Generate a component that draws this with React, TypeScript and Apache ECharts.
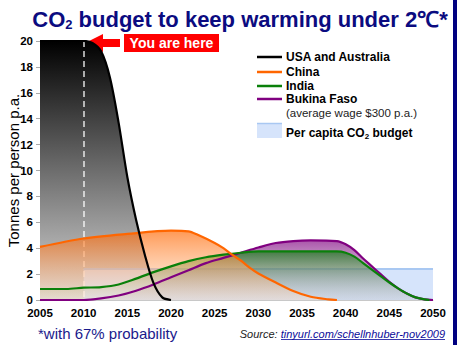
import React, { useEffect, useRef } from "react";
import * as echarts from "echarts";

const years = [2005, 2010, 2015, 2020, 2025, 2030, 2035, 2040, 2045, 2050];
const yTicks = [0, 2, 4, 6, 8, 10, 12, 14, 16, 18, 20];

const usaAustralia: [number, number][] = [
  [2005, 20], [2010, 20], [2011, 19.85], [2012, 19.2], [2013, 17.2], [2014, 13.7],
  [2015, 9.5], [2016, 6.2], [2017, 3.5], [2018, 1.3], [2019, 0.2], [2020, 0],
];
const china: [number, number][] = [
  [2005, 4.1], [2010, 4.75], [2015, 5.1], [2020, 5.35], [2022, 5.3], [2023, 5.05],
  [2025, 4.4], [2026, 4.0], [2027, 3.5], [2028, 3.05], [2029, 2.5], [2030, 2.05],
  [2032, 1.35], [2034, 0.7], [2036, 0.25], [2038, 0.05], [2039, 0],
];
const india: [number, number][] = [
  [2005, 0.85], [2008, 0.85], [2010, 0.95], [2012, 1.0], [2014, 1.2], [2016, 1.65],
  [2018, 2.15], [2020, 2.6], [2022, 3.0], [2024, 3.3], [2026, 3.5], [2028, 3.65],
  [2030, 3.75], [2035, 3.75], [2039, 3.75], [2040, 3.65], [2041, 3.35], [2042, 2.85],
  [2043, 2.35], [2044, 1.85], [2045, 1.35], [2046, 0.9], [2047, 0.5], [2048, 0.2],
  [2049, 0.05], [2049.6, 0],
];
const bukinaFaso: [number, number][] = [
  [2005, 0], [2010, 0], [2012, 0.12], [2014, 0.35], [2016, 0.72], [2018, 1.2],
  [2020, 1.75], [2022, 2.3], [2024, 2.85], [2026, 3.25], [2028, 3.65], [2030, 4.05],
  [2032, 4.4], [2034, 4.55], [2036, 4.6], [2039, 4.55], [2040, 4.3], [2041, 3.85],
  [2042, 3.2], [2043, 2.6], [2044, 2.0], [2045, 1.4], [2046, 0.9], [2047, 0.5],
  [2048, 0.2], [2049, 0.05], [2050, 0],
];
const budget: [number, number][] = [[2010, 2.4], [2050, 2.4]];
const youAreHereYear = 2010;

const FONT = "'Liberation Sans', Arial, Helvetica, sans-serif";
const NAVY = "#0b0b80";

function grad(top: string, bottom: string) {
  return new echarts.graphic.LinearGradient(0, 0, 0, 1, [
    { offset: 0, color: top },
    { offset: 1, color: bottom },
  ]);
}

export default function App() {
  const ref = useRef<HTMLDivElement>(null);
  useEffect(() => {
    if (!ref.current) return;
    const chart = echarts.init(ref.current, null, { renderer: "svg" });
    const SMOOTH = 0.3;
    const fill = (name: string, data: [number, number][], area: any, z: number) => ({
      name,
      type: "line",
      data,
      smooth: SMOOTH,
      showSymbol: false,
      lineStyle: { width: 0 },
      areaStyle: area,
      z,
      silent: true,
    });
    const line = (name: string, data: [number, number][], color: string, z: number, extra: any = {}) => ({
      name,
      type: "line",
      data,
      smooth: SMOOTH,
      showSymbol: false,
      lineStyle: { width: 2.2, color },
      z,
      silent: true,
      ...extra,
    });
    const legendY = [57, 72, 86, 99];
    const legendItems = [
      { label: "USA and Australia", color: "#000000" },
      { label: "China", color: "#ff6600" },
      { label: "India", color: "#0a800a" },
      { label: "Bukina Faso", color: "#800080" },
    ];
    const legendGraphics: any[] = [];
    legendItems.forEach((it, i) => {
      legendGraphics.push({
        type: "line",
        shape: { x1: 257, y1: legendY[i], x2: 282, y2: legendY[i] },
        style: { stroke: it.color, lineWidth: 2.5 },
      });
      legendGraphics.push({
        type: "text",
        x: 286,
        y: legendY[i],
        style: { text: it.label, font: `bold 12px ${FONT}`, fill: "#000", verticalAlign: "middle" },
      });
    });
    legendGraphics.push({
      type: "text",
      x: 286,
      y: 113,
      style: { text: "(average wage $300 p.a.)", font: `11.5px ${FONT}`, fill: "#222", verticalAlign: "middle" },
    });
    legendGraphics.push({
      type: "rect",
      shape: { x: 257, y: 123, width: 25, height: 15 },
      style: { fill: "#d6e4fb" },
    });
    legendGraphics.push({
      type: "line",
      shape: { x1: 257, y1: 123.5, x2: 282, y2: 123.5 },
      style: { stroke: "#a9c8f2", lineWidth: 1.5 },
    });
    legendGraphics.push({
      type: "text",
      x: 286,
      y: 133,
      style: {
        text: "{a|Per capita CO}{s|2}{a| budget}",
        verticalAlign: "middle",
        rich: {
          a: { font: `bold 12px ${FONT}`, fill: "#000" },
          s: { font: `bold 8px ${FONT}`, fill: "#000", padding: [6, 0, 0, 0] },
        },
      },
    });

    chart.setOption({
      animation: false,
      backgroundColor: "#ffffff",
      title: {
        text: "{a|CO}{s|2}{a| budget to keep warming under 2℃*}",
        left: 235,
        textAlign: "center",
        top: 3,
        textStyle: {
          rich: {
            a: { fontFamily: FONT, fontWeight: "bold", fontSize: 22, color: NAVY },
            s: { fontFamily: FONT, fontWeight: "bold", fontSize: 13, color: NAVY, padding: [10, 0, 0, 0] },
          },
        },
      },
      grid: { left: 40, right: 31, top: 41, bottom: 45, outerBoundsMode: "none", containLabel: false },
      xAxis: {
        type: "value",
        min: years[0],
        max: years[years.length - 1],
        interval: 5,
        splitLine: { show: false },
        axisLine: { show: true, lineStyle: { color: "#c8c8c8" } },
        axisTick: { show: false },
        axisLabel: {
          fontFamily: FONT,
          fontWeight: "bold",
          fontSize: 11.5,
          color: "#000",
          margin: 7,
          formatter: (v: number) => String(v),
        },
      },
      yAxis: {
        type: "value",
        min: yTicks[0],
        max: yTicks[yTicks.length - 1],
        interval: 2,
        name: "Tonnes per person p.a.",
        nameLocation: "middle",
        nameRotate: 90,
        nameGap: 19,
        nameMoveOverlap: false,
        nameTextStyle: { fontFamily: FONT, fontSize: 15, color: "#000" },
        splitLine: { show: false },
        axisLine: { show: true, lineStyle: { color: "#c8c8c8" } },
        axisTick: { show: true, length: 4, lineStyle: { color: "#aaa" } },
        axisLabel: {
          fontFamily: FONT,
          fontWeight: "bold",
          fontSize: 11.5,
          color: "#000",
          margin: 7,
        },
      },
      series: [
        fill("USA and Australia area", usaAustralia, { color: grad("#000000", "#dadada"), opacity: 1 }, 1),
        {
          name: "Per capita CO2 budget",
          type: "line",
          data: budget,
          showSymbol: false,
          lineStyle: { width: 2, color: "#a9c8f2" },
          areaStyle: { color: "#d6e4fb", opacity: 1 },
          z: 2,
          silent: true,
        },
        fill("Bukina Faso area", bukinaFaso, { color: grad("rgba(128,0,128,0.95)", "rgba(180,160,190,0.25)") }, 3),
        fill("India area", india, { color: grad("rgba(10,125,10,0.95)", "rgba(200,215,190,0.25)") }, 4),
        fill("China area", china, { color: grad("rgba(255,102,0,0.95)", "rgba(255,225,200,0.55)") }, 5),
        line("Bukina Faso", bukinaFaso, "#800080", 6),
        line("India", india, "#0a800a", 7),
        line("China", china, "#ff6600", 8),
        line("USA and Australia", usaAustralia, "#000000", 9, {
          markLine: {
            silent: true,
            symbol: ["none", "none"],
            label: { show: false },
            lineStyle: { color: "rgba(255,255,255,0.85)", type: [6, 4], width: 1.5 },
            data: [[{ coord: [youAreHereYear, 20] }, { coord: [youAreHereYear, 0] }]],
          },
        }),
      ],
      graphic: [
        {
          type: "polygon",
          shape: {
            points: [[85, 43], [103, 34], [103, 39], [120, 39], [120, 47], [103, 47], [103, 52]],
          },
          style: { fill: "#ff0000" },
        },
        { type: "rect", shape: { x: 124, y: 34, width: 95, height: 18 }, style: { fill: "#ff0000" } },
        {
          type: "text",
          x: 171.5,
          y: 43,
          style: {
            text: "You are here",
            font: `bold 14px ${FONT}`,
            fill: "#fff",
            align: "center",
            verticalAlign: "middle",
          },
        },
        ...legendGraphics,
        { type: "rect", shape: { x: 453, y: 0, width: 4, height: 345 }, style: { fill: "#000080" } },
        {
          type: "text",
          x: 38,
          y: 333,
          style: { text: "*with 67% probability", font: `15px ${FONT}`, fill: "#1a1a8c", verticalAlign: "middle" },
        },
        {
          type: "text",
          x: 445,
          y: 334,
          style: {
            text: "{a|Source: }{b|tinyurl.com/schellnhuber-nov2009}",
            align: "right",
            verticalAlign: "middle",
            rich: {
              a: { font: `italic 11px ${FONT}`, fill: "#222" },
              b: { font: `italic 11px ${FONT}`, fill: "#0a0a99" },
            },
          },
        },
        {
          type: "line",
          shape: { x1: 281, y1: 339.5, x2: 445, y2: 339.5 },
          style: { stroke: "#0a0a99", lineWidth: 0.8 },
        },
      ],
    });
    return () => chart.dispose();
  }, []);
  return (
    <div
      ref={ref}
      style={{ position: "absolute", left: 0, top: 0, width: 464, height: 345 }}
    />
  );
}
